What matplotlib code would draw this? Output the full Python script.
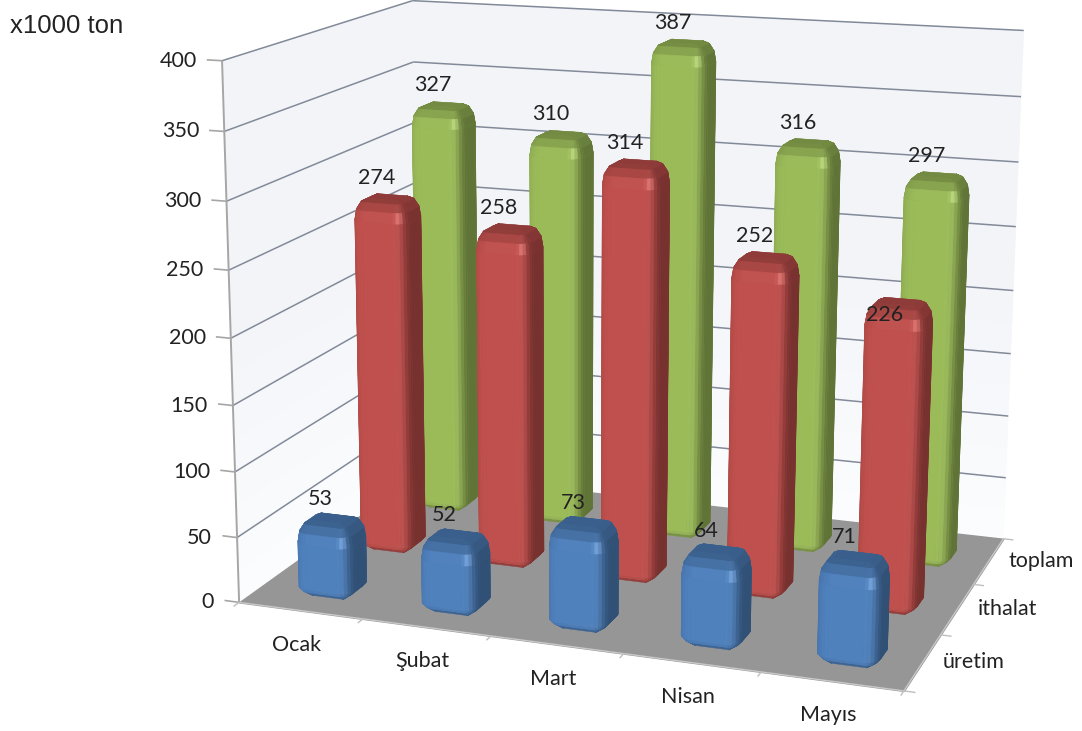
import numpy as np
import matplotlib
matplotlib.use('Agg')
import matplotlib.pyplot as plt
from matplotlib.colors import to_rgb
from mpl_toolkits.mplot3d import proj3d
from mpl_toolkits.mplot3d.art3d import Poly3DCollection, Line3DCollection

months = ['Ocak', 'Şubat', 'Mart', 'Nisan', 'Mayıs']
series_names = ['üretim', 'ithalat', 'toplam']
uretim = [53, 52, 73, 64, 71]
ithalat = [274, 258, 314, 252, 226]
toplam = [327, 310, 387, 316, 297]
series_values = [uretim, ithalat, toplam]
series_colors = ['#4F81BD', '#C0504D', '#9BBB59']
z_ticks = [0, 50, 100, 150, 200, 250, 300, 350, 400]

plt.rcParams['font.family'] = ['Lato', 'DejaVu Sans']

BAR_W = 0.45
BAR_D = 0.36
RAD = 0.10
RAD_Z = 16
BAR_FOOT = -6  # the bars sink a little into the floor in the original
TXT = '#222222'
FS = 15.5
W, H = 1082, 731

# where the corners of the chart box sit on the page, in pixels: (x, y, z) -> (px, py)
camera_points = [((0, 0, 0), (240, 602)), ((5, 0, 0), (905, 690)), ((5, 3, 0), (1003, 540)),
                 ((0, 3, 0), (418, 473)), ((0, 0, 400), (220, 62)), ((0, 3, 400), (415, 0)),
                 ((5, 3, 400), (1023, 30))]


def fit_camera(ax):
    # excel's perspective does not fit view_init, so solve the 3x4 camera matrix directly
    rows, rhs = [], []
    to_view = ax.transData.inverted()
    for (x, y, z), (px, py) in camera_points:
        vx, vy = to_view.transform((px, H - py))
        rows.append([x, y, z, 1, 0, 0, 0, 0, -vx * x, -vx * y, -vx * z])
        rows.append([0, 0, 0, 0, x, y, z, 1, -vy * x, -vy * y, -vy * z])
        rhs += [vx, vy]
    m = np.linalg.lstsq(np.array(rows, float), np.array(rhs, float), rcond=None)[0]
    row_w = np.array([m[8], m[9], m[10], 1.0])
    # depth row: 1 - c/w grows with the distance from the viewer
    row_z = row_w - np.array([0, 0, 0, 0.5])
    return np.array([m[:4], m[4:8], row_z, row_w])


def shade(color, nx, ny, nz):
    # rough bevel lighting: front bright, right side dark, left a bit dark, top in between
    side = 0.62 if nx > 0 else 0.9
    s = ny * ny + side * nx * nx + 0.74 * nz * nz
    base = np.array(to_rgb(color)) * s
    h = np.array([0.42, -0.82, 0.38])
    h = h / np.linalg.norm(h)
    spec = max(0.0, nx * h[0] + ny * h[1] + nz * h[2]) ** 25 * 0.2
    return tuple(np.clip(base + spec, 0, 1))


def rounded_bar(ax, xc, yc, height, color, zorder):
    # outline angles, some steps on each corner
    outline = []
    for sx, sy, a0 in [(1, -1, -90), (1, 1, 0), (-1, 1, 90), (-1, -1, 180)]:
        for a in np.linspace(a0, a0 + 90, 7):
            outline.append((sx, sy, np.radians(a)))
    rings = [(-90, BAR_FOOT), (-45, BAR_FOOT + RAD_Z * 0.3), (0, BAR_FOOT + RAD_Z * 0.5)]
    rings += [(0, height - RAD_Z), (30, height - RAD_Z * 0.5),
              (60, height - RAD_Z * 0.14), (90, height)]

    def point(o, phi, z):
        sx, sy, th = o
        c = np.cos(np.radians(phi))
        return (xc + sx * (BAR_W / 2 - RAD) + RAD * c * np.cos(th),
                yc + sy * (BAR_D / 2 - RAD) + RAD * c * np.sin(th), z)

    polys, cols = [], []
    n = len(outline)
    for (p0, z0), (p1, z1) in zip(rings[:-1], rings[1:]):
        pm = np.radians((p0 + p1) / 2)
        for i in range(n):
            a, b = outline[i], outline[(i + 1) % n]
            polys.append([point(a, p0, z0), point(b, p0, z0), point(b, p1, z1), point(a, p1, z1)])
            th = (a[2] + b[2]) / 2 if abs(a[2] - b[2]) < 3 else a[2]
            cols.append(shade(color, np.cos(th) * np.cos(pm), np.sin(th) * np.cos(pm), np.sin(pm)))
    polys.append([point(o, 89, height) for o in outline])
    cols.append(shade(color, 0, 0, 1))
    pc = Poly3DCollection(polys, facecolors=cols, edgecolors=cols, linewidths=0.3, zorder=zorder)
    ax.add_collection3d(pc)


def lines(ax, segments, color, lw=1.0, zorder=1):
    ax.add_collection3d(Line3DCollection(segments, colors=color, linewidths=lw, zorder=zorder))


def label(ax, x, y, z, text, dx, dy, ha='center', zorder=60):
    # 2d annotation at the projected spot, offsets in pixels
    X, Y, _ = proj3d.proj_transform(x, y, z, ax.get_proj())
    ax.annotate(text, (X, Y), xytext=(dx, dy), textcoords='offset pixels', ha=ha, va='center',
                fontsize=FS, color=TXT, zorder=zorder, annotation_clip=False)


fig = plt.figure(figsize=(W / 100, H / 100), dpi=100)
# axes 3d are always square, so use a square box that covers the whole page
ax = fig.add_axes([(541 - 650) / W, (365 - 650) / H, 1300 / W, 1300 / H],
                  projection='3d', computed_zorder=False)
ax.set_xlim(0, 5, view_margin=0)
ax.set_ylim(0, 3, view_margin=0)
ax.set_zlim(0, 400, view_margin=0)
ax.set_axis_off()
ax.patch.set_alpha(0)
ax.apply_aspect()
camera = fit_camera(ax)
ax.get_proj = lambda: camera

# walls fade to near white towards the floor, floor is flat grey
low = np.array(to_rgb('#FCFCFE'))
high = np.array(to_rgb('#F3F4F8'))
steps = np.linspace(0, 400, 17)
for k in range(16):
    c = low + (high - low) * min(1.0, (k + 0.5) / 8)
    z0, z1 = steps[k], steps[k + 1]
    ax.add_collection3d(Poly3DCollection(
        [[(0, 0, z0), (0, 3, z0), (0, 3, z1), (0, 0, z1)],
         [(0, 3, z0), (5, 3, z0), (5, 3, z1), (0, 3, z1)]],
        facecolors=[c, c], edgecolors=[c, c], linewidths=0.4, zorder=0))
ax.add_collection3d(Poly3DCollection([[(0, 0, 0), (5, 0, 0), (5, 3, 0), (0, 3, 0)]],
                                     facecolors='#969696', edgecolors='#969696', zorder=0.5))

# grid on the two walls
for z in z_ticks[1:]:
    lines(ax, [[(0, 0, z), (0, 3, z)], [(0, 3, z), (5, 3, z)]], '#828A99', lw=1.1)
for z in z_ticks:
    lines(ax, [[(0, 0, z), (-0.12, 0, z)]], '#A6A6A6', lw=1.2)
    label(ax, 0, 0, z, str(z), -25, 0, ha='right')
lines(ax, [[(0, 0, 0), (0, 0, 400)]], '#A6A6A6', lw=1.4)
lines(ax, [[(0, 0, 0), (5, 0, 0)], [(5, 0, 0), (5, 3, 0)]], '#C8C8C8')

# floor ticks and labels
lines(ax, [[(i, 0, 0), (i, -0.08, 0)] for i in range(6)], '#BFBFBF')
for i, m in enumerate(months):
    label(ax, i + 0.5, 0, 0, m, -4, -34)
lines(ax, [[(5, j, 0), (5.08, j, 0)] for j in range(4)], '#BFBFBF')
for j, s in enumerate(series_names):
    label(ax, 5, j + 0.5, 0, s, 20, 0, ha='left')

# back rows first, then left to right
order = 10
for j in [2, 1, 0]:
    for i in range(5):
        rounded_bar(ax, i + 0.5, j + 0.5, series_values[j][i], series_colors[j], order)
        order += 1
for j in [2, 1, 0]:
    for i in range(5):
        val = series_values[j][i]
        dx, dy = -11, 19
        if j == 1 and i == 4:
            # this one was dragged down on the bar in the original
            dx, dy = -15, -13
        label(ax, i + 0.5, j + 0.5, val, str(val), dx, dy)

fig.text(0.009, 0.964, 'x1000 ton', family='Liberation Sans', fontsize=18.5, color=TXT, ha='left', va='center')
fig.savefig('out.png', dpi=100)
